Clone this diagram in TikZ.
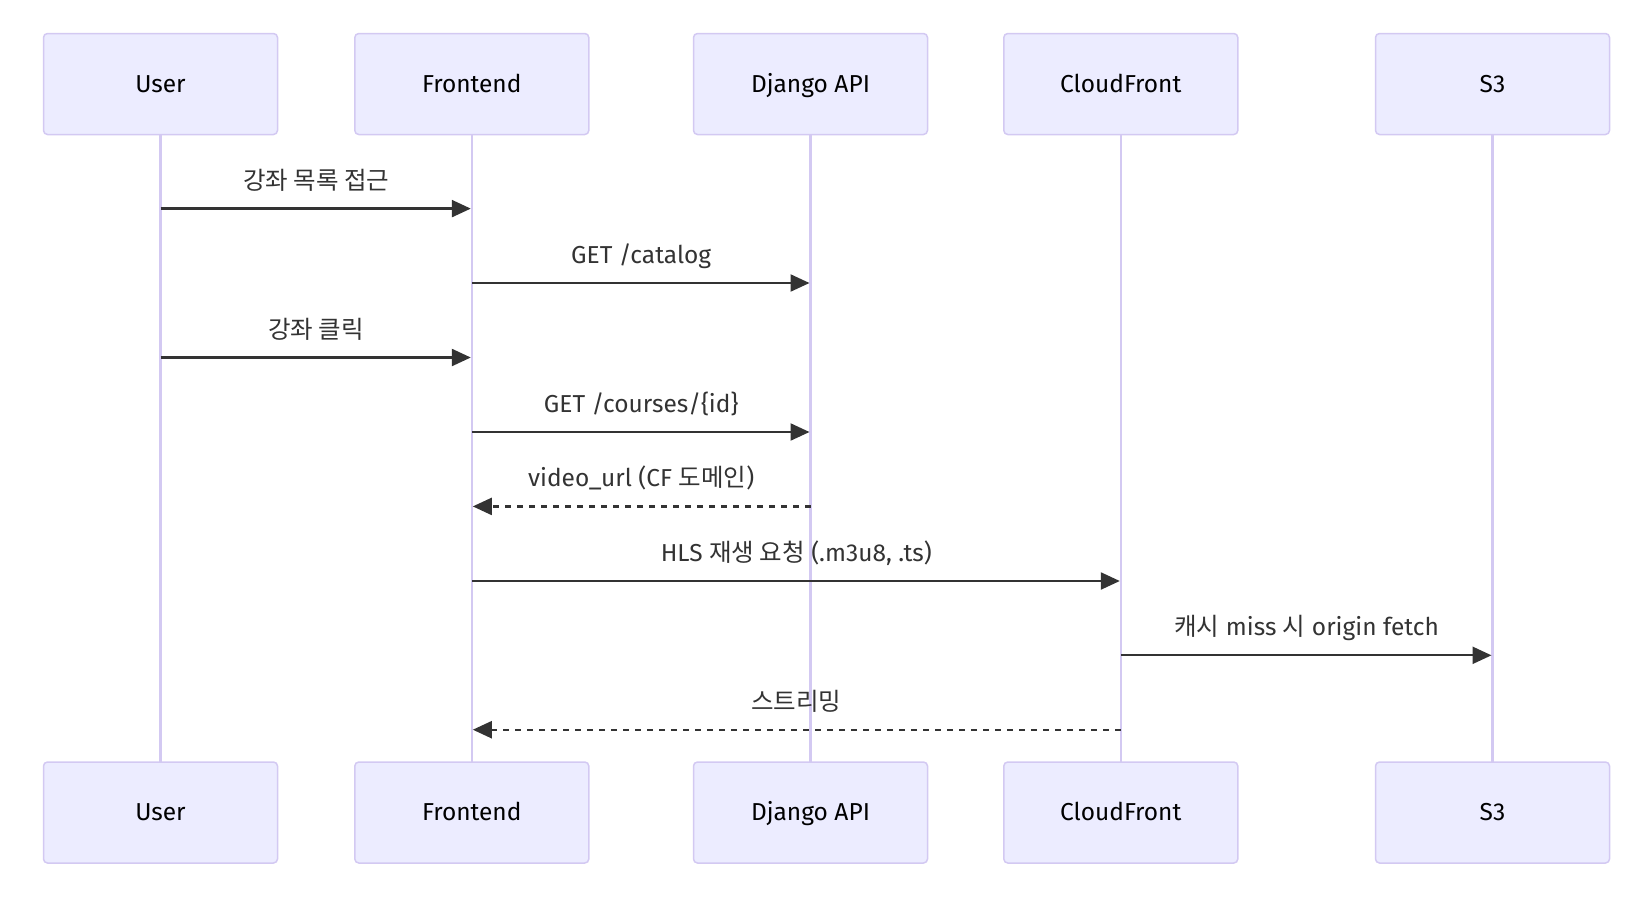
\documentclass[tikz,border=0pt]{standalone}
\usepackage{fontspec}
\setmainfont{Fira Sans}
\newfontfamily\kr{Noto Sans CJK KR}
\usetikzlibrary{arrows.meta}
\definecolor{actfill}{HTML}{ECECFF}
\definecolor{actline}{HTML}{D3C9F2}
\definecolor{msg}{HTML}{333333}
\tikzset{
  actor/.style={draw=actline, line width=1.5pt, fill=actfill, rounded corners=4pt,
    minimum width=234pt, minimum height=101pt, inner sep=0pt, text height=18pt, text depth=2pt,
    font=\fontsize{24.5}{28}\selectfont, text=black},
  life/.style={draw=actline, line width=2.5pt},
  msgline/.style={draw=msg, line width=2.3pt, -{Triangle[length=19pt,width=17pt]}, shorten >=1pt},
  dashmsg/.style={msgline, dash pattern=on 6pt off 6pt},
  lbl/.style={font=\fontsize{24.5}{28}\selectfont, text=msg, inner sep=0pt, anchor=base, yshift=19.5pt}
}
\begin{document}
\begin{tikzpicture}[x=1pt,y=-1pt]
\useasboundingbox (0,0) rectangle (1644,898);
% lifelines
\foreach \n/\x in {u/160.5,f/471.8,d/810.5,c/1120.8,s/1492.5}{
  \coordinate (\n t) at (\x,134);
  \coordinate (\n b) at (\x,762);
  \draw[life] (\n t) -- (\n b);
}
% actors top
\node[actor] (ut) at (160.5,84) {User};
\node[actor] (ft) at (471.8,84) {Frontend};
\node[actor] (dt) at (810.5,84) {Django API};
\node[actor] (ct) at (1120.8,84) {CloudFront};
\node[actor] (st) at (1492.5,84) {S3};
% actors bottom
\node[actor] (ub) at (160.5,812.5) {User};
\node[actor] (fb) at (471.8,812.5) {Frontend};
\node[actor] (db) at (810.5,812.5) {Django API};
\node[actor] (cb) at (1120.8,812.5) {CloudFront};
\node[actor] (sb) at (1492.5,812.5) {S3};
% message anchors
\foreach \i/\y in {1/208.6,2/283,3/357.5,4/432,5/506.4,6/581,7/655.3,8/729.7}{
  \foreach \n/\x in {u/160.5,f/471.8,d/810.5,c/1120.8,s/1492.5}{
    \coordinate (\n\i) at (\x,\y);
  }
}
\draw[msgline] (u1) -- (f1) node[lbl, midway] (l1) {\kr 강좌 목록 접근};
\draw[msgline] (f2) -- (d2) node[lbl, midway] (l2) {GET /catalog};
\draw[msgline] (u3) -- (f3) node[lbl, midway] (l3) {\kr 강좌 클릭};
\draw[msgline] (f4) -- (d4) node[lbl, midway] (l4) {GET /courses/\{id\}};
\draw[dashmsg] (d5) -- (f5) node[lbl, midway] (l5) {video\_url (CF {\kr 도메인})};
\draw[msgline] (f6) -- (c6) node[lbl, midway] (l6) {HLS {\kr 재생 요청} (.m3u8, .ts)};
\draw[msgline] (c7) -- (s7) node[lbl, midway] (l7) {{\kr 캐시} miss {\kr 시} origin fetch};
\draw[dashmsg] (c8) -- (f8) node[lbl, midway] (l8) {\kr 스트리밍};
\end{tikzpicture}
\end{document}
